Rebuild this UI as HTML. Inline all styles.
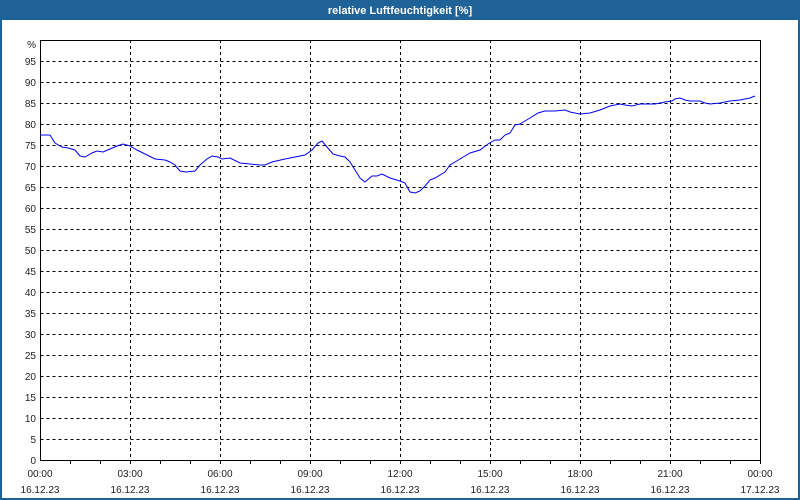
<!DOCTYPE html>
<html><head><meta charset="utf-8"><style>
html,body{margin:0;padding:0;background:#fff;}
svg{display:block;font-family:"Liberation Sans","DejaVu Sans",sans-serif;}
</style></head><body>
<svg width="800" height="500" viewBox="0 0 800 500" xmlns="http://www.w3.org/2000/svg">
<rect x="0" y="0" width="800" height="500" fill="#1e6297"/>
<rect x="2" y="20" width="796" height="478" fill="#fff"/>
<text x="400" y="14" fill="#fff" font-size="11" font-weight="bold" text-anchor="middle">relative Luftfeuchtigkeit [%]</text>
<g stroke="#000" stroke-dasharray="3,3" stroke-width="1">
<path d="M40.5 439.5H760M40.5 418.5H760M40.5 397.5H760M40.5 376.5H760M40.5 355.5H760M40.5 334.5H760M40.5 313.5H760M40.5 292.5H760M40.5 271.5H760M40.5 250.5H760M40.5 229.5H760M40.5 208.5H760M40.5 187.5H760M40.5 166.5H760M40.5 145.5H760M40.5 124.5H760M40.5 103.5H760M40.5 82.5H760M40.5 61.5H760"/>
<path d="M130.5 40V460M220.5 40V460M310.5 40V460M400.5 40V460M490.5 40V460M580.5 40V460M670.5 40V460"/>
</g>
<path d="M40.5 40.5H760.5V460.5H40.5Z" fill="none" stroke="#000"/>
<g stroke="#000"><path d="M70.5 460v4M100.5 460v4M130.5 460v4M160.5 460v4M190.5 460v4M220.5 460v4M250.5 460v4M280.5 460v4M310.5 460v4M340.5 460v4M370.5 460v4M400.5 460v4M430.5 460v4M460.5 460v4M490.5 460v4M520.5 460v4M550.5 460v4M580.5 460v4M610.5 460v4M640.5 460v4M670.5 460v4M700.5 460v4M730.5 460v4M760.5 460v4"/></g>
<g font-size="10" fill="#222" text-anchor="end">
<text x="36" y="464">0</text><text x="36" y="443">5</text><text x="36" y="422">10</text><text x="36" y="401">15</text><text x="36" y="380">20</text><text x="36" y="359">25</text><text x="36" y="338">30</text><text x="36" y="317">35</text><text x="36" y="296">40</text><text x="36" y="275">45</text><text x="36" y="254">50</text><text x="36" y="233">55</text><text x="36" y="212">60</text><text x="36" y="191">65</text><text x="36" y="170">70</text><text x="36" y="149">75</text><text x="36" y="128">80</text><text x="36" y="107">85</text><text x="36" y="86">90</text><text x="36" y="65">95</text><text x="36" y="48">%</text>
</g>
<g font-size="10" fill="#222" text-anchor="middle">
<text x="40" y="477">00:00</text><text x="40" y="493">16.12.23</text>
<text x="130" y="477">03:00</text><text x="130" y="493">16.12.23</text>
<text x="220" y="477">06:00</text><text x="220" y="493">16.12.23</text>
<text x="310" y="477">09:00</text><text x="310" y="493">16.12.23</text>
<text x="400" y="477">12:00</text><text x="400" y="493">16.12.23</text>
<text x="490" y="477">15:00</text><text x="490" y="493">16.12.23</text>
<text x="580" y="477">18:00</text><text x="580" y="493">16.12.23</text>
<text x="670" y="477">21:00</text><text x="670" y="493">16.12.23</text>
<text x="760" y="477">00:00</text><text x="760" y="493">17.12.23</text>
</g>
<polyline fill="none" stroke="#0000ee" stroke-width="1" points="40,135 50,135 55,143 62,147 68,148 75,150 80,156 85,157 92,153 97,151 103,152 110,149 117,146 123,144 130,146 137,150 145,154 155,159 165,160 170,162 175,165 180,171 186,172 195,171 200,165 207,159 212,156 218,157 222,159 230,158 240,163 250,164 260,165 265,165 272,162 285,159 295,157 305,155 312,150 318,143 322,141 327,147 333,154 340,156 345,157 350,162 355,170 360,178 365,182 372,176 377,176 382,174 390,178 400,181 405,183 410,192 415,193 420,191 425,186 430,180 435,178 445,172 450,165 455,162 465,156 470,153 480,150 488,144 495,140 500,140 505,135 510,133 515,125 520,124 525,121 530,118 538,113 545,111 555,111 565,110 570,112 580,114 590,113 600,110 610,106 620,104 625,105 632,106 640,104 655,104 665,102 672,101 675,99 680,98 685,100 690,101 700,101 705,103 710,104 720,103 730,101 740,100 750,98 755,96"/>
</svg>
</body></html>
